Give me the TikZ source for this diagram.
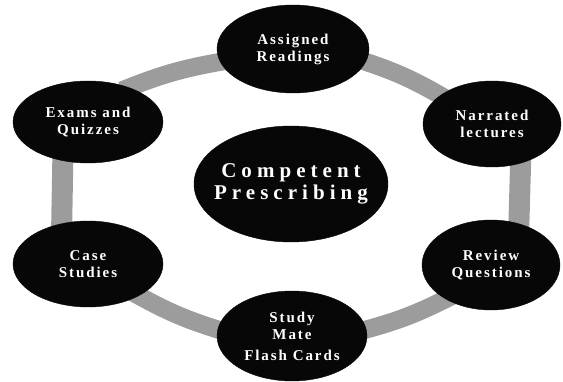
\documentclass[tikz,border=0pt]{standalone}
\usepackage{fontspec}
\setmainfont{Liberation Serif}
\newfontfamily\discfont[LetterSpace=13]{Liberation Serif}
\newfontfamily\hubfont[LetterSpace=24]{Liberation Serif}
\usepackage{tikz}
\usetikzlibrary{shapes.geometric,backgrounds}
\usepackage{xcolor}
\definecolor{ink}{HTML}{070707}
\definecolor{band}{HTML}{9C9C9C}
\tikzset{topicdisk/.style={ellipse,fill=ink,draw=ink,inner sep=0pt,text=white,align=center,font=\discfont\bfseries\fontsize{15}{17}\selectfont},hubdisk/.style={topicdisk,inner xsep=-10pt,font=\hubfont\bfseries\fontsize{21}{22}\selectfont},ringband/.style={draw=band,line width=18pt,shorten <=-8pt,shorten >=-8pt}}

\begin{document}
\begin{tikzpicture}[x=1pt,y=1pt]
\useasboundingbox (0,0) rectangle (563,381);
\node[topicdisk,minimum width=152,minimum height=88] (read) at (293,332) {Assigned\\Readings};
\node[topicdisk,minimum width=138,minimum height=86] (lect) at (492,257) {Narrated\\lectures};
\node[topicdisk,minimum width=138,minimum height=90] (review) at (491,116) {Review\\Questions};
\node[topicdisk,minimum width=150,minimum height=90] (flash) at (292,45) {Study\\Mate\\[4pt]Flash Cards};
\node[topicdisk,minimum width=150,minimum height=86] (case) at (88,117) {Case\\Studies};
\node[topicdisk,minimum width=150,minimum height=82] (exams) at (88,259) {Exams and\\Quizzes};
\node[hubdisk,minimum width=194,minimum height=116] (core) at (291,197) {Competent\\Prescribing};
\begin{scope}[on background layer]
\draw[ringband] (read.190) to[bend right=6] (exams.40);
\draw[ringband] (read.350) to[bend left=6] (lect.151);
\draw[ringband,line width=21pt] (exams.237) -- (case.123);
\draw[ringband,line width=21pt] (lect.306) -- (review.56);
\draw[ringband] (case.328) to[bend right=6] (flash.175);
\draw[ringband] (flash.5) to[bend right=6] (review.217);
\end{scope}
\end{tikzpicture}
\end{document}
